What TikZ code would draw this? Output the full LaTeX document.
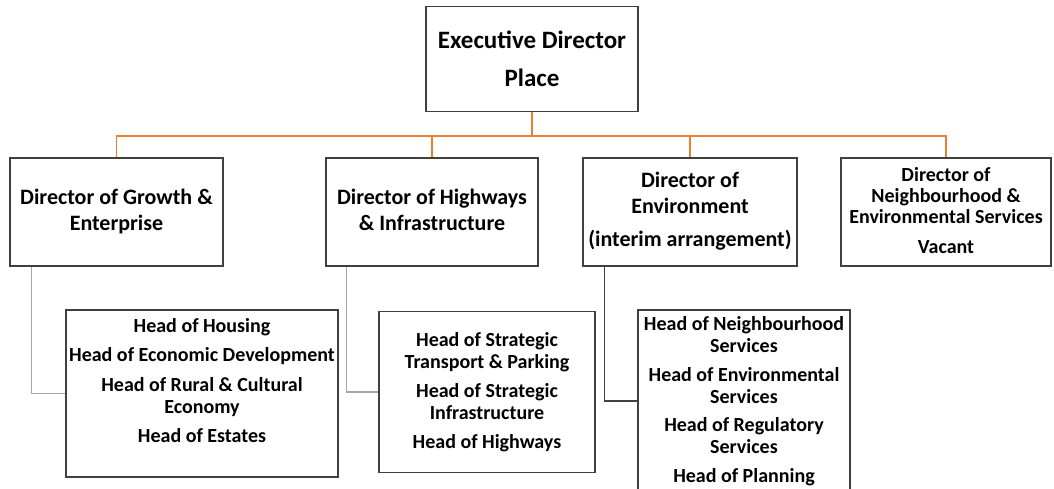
\documentclass[tikz,border=0pt]{standalone}
\usepackage{fontspec}
\setmainfont{Carlito}

\tikzset{
  box/.style = {draw=black!75, line width=0.7pt, align=center, inner sep=2pt},
  dirbox/.style = {box, minimum height=54pt, text depth=2.5pt, font=\bfseries\fontsize{11}{13}\selectfont},
  headbox/.style = {box, inner xsep=0pt, font=\bfseries\fontsize{10}{11}\selectfont},
  tree/.style = {draw={rgb,255:red,237;green,125;blue,49}, line width=0.8pt},
  sub/.style = {draw=black!35, line width=0.7pt},
  subdark/.style = {draw=black!75, line width=0.7pt},
}

\begin{document}
\begin{tikzpicture}[x=0.5pt, y=-0.5pt]
\useasboundingbox (0,0) rectangle (1054,488);

\node[box, minimum width=106pt, minimum height=52.5pt, font=\bfseries\fontsize{12.5}{19}\selectfont] (exec) at (532,59) {Executive Director\\Place};

\node[dirbox, minimum width=106.5pt] (growth) at (116.5,212) {Director of Growth \&\\Enterprise};
\node[dirbox, minimum width=106pt] (highways) at (432,212) {Director of Highways\\\& Infrastructure};
\node[dirbox, minimum width=107pt] (env) at (690,212) {Director of\\Environment\\[3.5pt](interim arrangement)};
\node[dirbox, minimum width=105pt, text depth=1.5pt, font=\bfseries\fontsize{10}{10.5}\selectfont] (neigh) at (946,212) {Director of\\Neighbourhood \&\\Environmental Services\\[4.5pt]Vacant};

\node[headbox, minimum width=136pt, minimum height=83.5pt, text depth=13pt] (housing) at (202,393.5) {Head of Housing\\[3.7pt]Head of Economic Development\\[3.7pt]Head of Rural \& Cultural\\Economy\\[3.7pt]Head of Estates};
\node[headbox, minimum width=108pt, minimum height=80.5pt] (transport) at (487,392) {Head of Strategic\\Transport \& Parking\\[3.5pt]Head of Strategic\\Infrastructure\\[3.5pt]Head of Highways};
\node[headbox, minimum width=106pt, minimum height=91pt] (services) at (744,401) {Head of Neighbourhood\\Services\\[3.3pt]Head of Environmental\\Services\\[3.3pt]Head of Regulatory\\Services\\[3.3pt]Head of Planning};

% orange tree
\coordinate (bus) at (532,136);
\draw[tree] (exec.south) -- (bus);
\draw[tree] (bus) -| (growth.north);
\draw[tree] (bus) -| (highways.north);
\draw[tree] (bus) -| (env.north);
\draw[tree] (bus) -| (neigh.north);

% heads
\draw[sub] (growth.south west) ++(22,0) |- (housing.west);
\draw[sub] (highways.south west) ++(21,0) |- (transport.west);
\draw[subdark] (env.south west) ++(22,0) |- (services.west);
\end{tikzpicture}
\end{document}
